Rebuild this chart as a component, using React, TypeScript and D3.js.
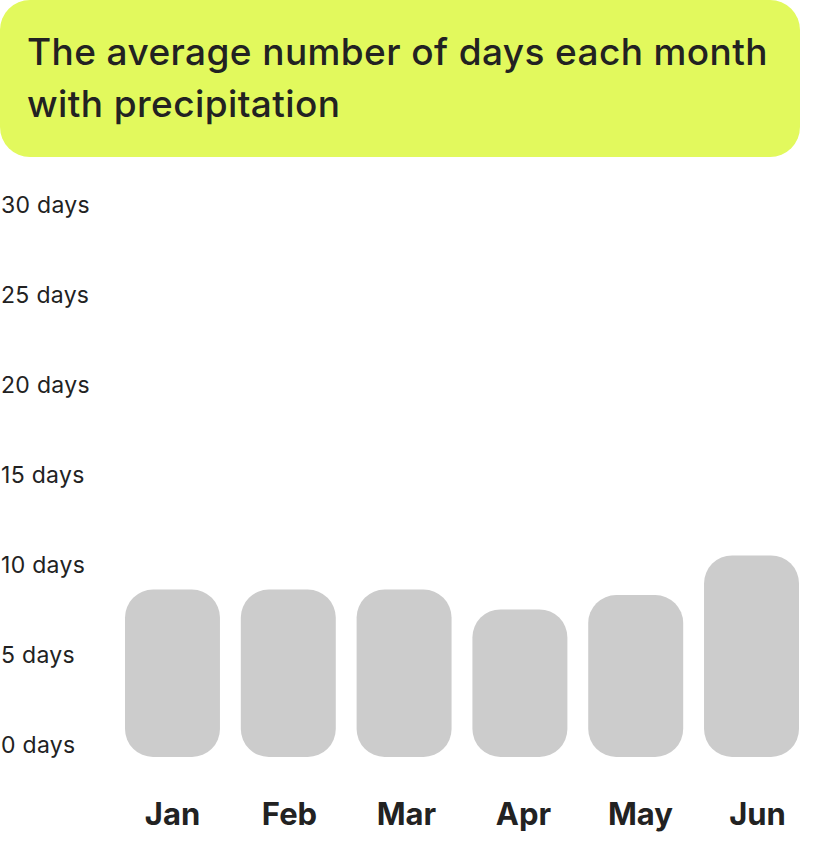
import { useEffect, useRef } from "react";
import * as d3 from "d3";

const months = ["Jan", "Feb", "Mar", "Apr", "May", "Jun"];
const rainyDays = [9.3, 9.3, 9.3, 8.2, 9.0, 11.2];
const yTicks = [0, 5, 10, 15, 20, 25, 30];
const titleLines = ["The average number of days each month", "with precipitation"];

const W = 825;
const H = 866;

export default function App() {
  const svgRef = useRef<SVGSVGElement>(null);

  useEffect(() => {
    if (!svgRef.current) return;
    const svg = d3.select(svgRef.current);
    svg.selectAll("*").remove();

    // title card
    svg
      .append("rect")
      .attr("x", 0)
      .attr("y", 0)
      .attr("width", 800)
      .attr("height", 157)
      .attr("rx", 30)
      .attr("fill", "#e2f95d");

    svg
      .append("g")
      .selectAll("text")
      .data(titleLines)
      .join("text")
      .attr("x", 27)
      .attr("y", (_, i) => 65 + i * 52)
      .attr("font-family", "Inter, sans-serif")
      .attr("font-size", 37)
      .attr("font-weight", 500)
      .attr("letter-spacing", 0.4)
      .attr("fill", "#222")
      .text((d) => d);

    const x = d3.scaleBand().domain(months).range([125, 799]).paddingInner(0.18).paddingOuter(0);
    // month labels are spaced a touch wider than the bars
    const xLabel = d3.scalePoint().domain(months).range([172.5, 757.5]);
    const y = d3.scaleLinear().domain([0, 30]).range([757, 217]);

    // y labels sit just above their (invisible) gridlines
    svg
      .append("g")
      .selectAll("text")
      .data(yTicks)
      .join("text")
      .attr("x", 1)
      .attr("y", (d) => y(d) - 4)
      .attr("font-family", "Inter, sans-serif")
      .attr("font-size", 23)
      .attr("letter-spacing", 0.3)
      .attr("fill", "#222")
      .text((d) => `${d} days`);

    svg
      .append("g")
      .selectAll("rect")
      .data(rainyDays)
      .join("rect")
      .attr("x", (_, i) => x(months[i]) || 0)
      .attr("y", (d) => y(d))
      .attr("width", x.bandwidth())
      .attr("height", (d) => y(0) - y(d))
      .attr("rx", 28)
      .attr("fill", "#cccccc");

    svg
      .append("g")
      .selectAll("text")
      .data(months)
      .join("text")
      .attr("x", (d) => xLabel(d) || 0)
      .attr("y", 825)
      .attr("text-anchor", "middle")
      .attr("font-family", "Inter, sans-serif")
      .attr("font-size", 31)
      .attr("font-weight", 700)
      .attr("fill", "#222")
      .text((d) => d);
  }, []);

  return (
    <svg
      ref={svgRef}
      width={W}
      height={H}
      style={{ position: "absolute", left: 0, top: 0, background: "#fff" }}
    />
  );
}
